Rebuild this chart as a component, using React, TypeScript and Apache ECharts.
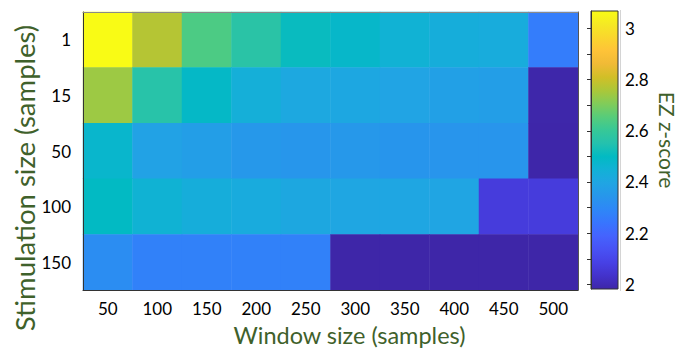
import React, { useEffect, useRef } from "react";
import * as echarts from "echarts";

// Window size (x) and stimulation size (y) categories
const windowSizes = ["50", "100", "150", "200", "250", "300", "350", "400", "450", "500"];
const stimSizes = ["1", "15", "50", "100", "150"];

// EZ z-score per stimulation size row, one value per window size
const stim1 = [3.068, 2.771, 2.637, 2.568, 2.51, 2.482, 2.452, 2.432, 2.424, 2.263];
const stim15 = [2.74, 2.563, 2.49, 2.438, 2.408, 2.405, 2.392, 2.378, 2.372, 1.985];
const stim50 = [2.475, 2.384, 2.373, 2.352, 2.345, 2.35, 2.341, 2.34, 2.34, 1.984];
const stim100 = [2.498, 2.455, 2.432, 2.42, 2.406, 2.4, 2.398, 2.396, 2.068, 2.068];
const stim150 = [2.312, 2.275, 2.275, 2.275, 2.275, 1.982, 1.982, 1.982, 1.982, 1.982];
const rows = [stim1, stim15, stim50, stim100, stim150];

// Colour scale
const zMin = 1.982;
const zMax = 3.068;
const cbTickValues = [2, 2.1, 2.2, 2.3, 2.4, 2.5, 2.6, 2.7, 2.8, 2.9, 3];
const cbLabelValues = [2, 2.2, 2.4, 2.6, 2.8, 3];

// parula colormap (sampled)
const parula = [
  "#3E26A8", "#4332CB", "#4741E5", "#4852F4", "#4563FD", "#3875FE", "#2E87F7", "#2796EB",
  "#20A5E3", "#12B1D6", "#02BAC3", "#24C1AE", "#37C897", "#57CC7A", "#81CC59", "#ABC739",
  "#D1BF27", "#F0BA36", "#FEC338", "#FAD62D", "#F5E924", "#F9FB15",
];

const FONT = "Lato";
const TITLE_COLOR = "#3F612B";

export default function App() {
  const ref = useRef<HTMLDivElement>(null);
  useEffect(() => {
    if (!ref.current) return;
    const chart = echarts.init(ref.current, undefined, { renderer: "svg" });
    const data: [number, number, number][] = [];
    rows.forEach((r, yi) => r.forEach((v, xi) => data.push([xi, yi, v])));

    const catAxisBase = {
      type: "category" as const,
      gridIndex: 0,
      splitLine: { show: false },
      splitArea: { show: false },
    };

    const gL = 83, gT = 12, gW = 495, gH = 278;
    const cbL = 591, cbT = 11, cbW = 27, cbH = 278;

    chart.setOption({
      animation: false,
      backgroundColor: "#ffffff",
      grid: [
        { left: gL, top: gT, width: gW, height: gH },
        { left: cbL, top: cbT, width: cbW, height: cbH },
      ],
      xAxis: [
        {
          ...catAxisBase,
          data: windowSizes,
          position: "bottom",
          z: 10,
          axisLine: { lineStyle: { color: "#333333", width: 1 } },
          axisTick: { inside: true, alignWithLabel: true, length: 3, lineStyle: { color: "#333333" } },
          axisLabel: { color: "#000000", fontSize: 17, fontFamily: FONT, margin: 10 },
        },
        {
          ...catAxisBase,
          data: windowSizes,
          position: "top",
          z: 10,
          axisLine: { lineStyle: { color: "#8a8a8a", width: 1 } },
          axisTick: { inside: true, alignWithLabel: true, length: 3, lineStyle: { color: "#333333" } },
          axisLabel: { show: false },
        },
        { type: "value", gridIndex: 1, show: false, min: 0, max: 1 },
      ],
      yAxis: [
        {
          ...catAxisBase,
          data: stimSizes,
          inverse: true,
          position: "left",
          z: 10,
          axisLine: { lineStyle: { color: "#333333", width: 1 } },
          axisTick: { inside: true, alignWithLabel: true, length: 5, lineStyle: { color: "#333333" } },
          axisLabel: { color: "#000000", fontSize: 17, fontFamily: FONT, margin: 12 },
        },
        {
          ...catAxisBase,
          data: stimSizes,
          inverse: true,
          position: "left",
          z: 10,
          axisLine: { show: false },
          axisTick: { inside: true, alignWithLabel: false, length: 5, lineStyle: { color: "#4a5a3a" } },
          axisLabel: { show: false },
        },
        {
          ...catAxisBase,
          data: stimSizes,
          inverse: true,
          position: "right",
          z: 10,
          axisLine: { lineStyle: { color: "#555555", width: 1 } },
          axisTick: { inside: true, alignWithLabel: true, length: 5, lineStyle: { color: "#333333" } },
          axisLabel: { show: false },
        },
        {
          ...catAxisBase,
          data: stimSizes,
          inverse: true,
          position: "right",
          z: 10,
          axisLine: { show: false },
          axisTick: { inside: true, alignWithLabel: false, length: 5, lineStyle: { color: "#333333" } },
          axisLabel: { show: false },
        },
        {
          type: "value",
          gridIndex: 1,
          min: zMin,
          max: zMax,
          position: "right",
          z: 10,
          splitLine: { show: false },
          axisLine: { show: true, lineStyle: { color: "#333333", width: 1 } },
          axisTick: {
            show: true,
            inside: true,
            length: 4,
            customValues: cbTickValues,
            lineStyle: { color: "#333333" },
          },
          axisLabel: {
            show: true,
            customValues: cbLabelValues,
            color: "#000000",
            fontSize: 17,
            fontFamily: FONT,
            margin: 7,
            formatter: (v: number) => String(Math.round(v * 10) / 10),
          },
        },
      ],
      visualMap: {
        type: "continuous",
        show: false,
        min: zMin,
        max: zMax,
        seriesIndex: 0,
        dimension: 2,
        inRange: { color: parula },
      },
      series: [
        {
          type: "heatmap",
          xAxisIndex: 0,
          yAxisIndex: 0,
          data,
          itemStyle: { borderWidth: 0 },
          emphasis: { disabled: true },
        },
      ],
      graphic: [
        {
          type: "rect",
          z: 1,
          shape: { x: cbL, y: cbT, width: cbW, height: cbH },
          style: {
            fill: new echarts.graphic.LinearGradient(
              0, 1, 0, 0,
              parula.map((c, i) => ({ offset: i / (parula.length - 1), color: c }))
            ),
            stroke: "#333333",
            lineWidth: 1,
          },
        },
        {
          type: "line",
          z: 1,
          shape: { x1: 620.5, y1: 10, x2: 620.5, y2: 291 },
          style: { stroke: "#d4d4d4", lineWidth: 1 },
        },
        {
          type: "text",
          x: 349.5,
          y: 335,
          style: {
            text: "Window size (samples)",
            fill: TITLE_COLOR,
            fontSize: 23.5,
            fontFamily: FONT,
            textAlign: "center",
            textVerticalAlign: "middle",
          },
        },
        {
          type: "text",
          x: 24,
          y: 178,
          rotation: Math.PI / 2,
          style: {
            text: "Stimulation size (samples)",
            fill: TITLE_COLOR,
            fontSize: 27.5,
            fontFamily: FONT,
            textAlign: "center",
            textVerticalAlign: "middle",
          },
        },
        {
          type: "text",
          x: 667,
          y: 140,
          rotation: -Math.PI / 2,
          style: {
            text: "EZ z-score",
            fill: TITLE_COLOR,
            fontSize: 21,
            fontFamily: FONT,
            textAlign: "center",
            textVerticalAlign: "middle",
          },
        },
      ],
    });
    return () => chart.dispose();
  }, []);
  return (
    <div
      ref={ref}
      style={{ position: "fixed", left: 0, top: 0, width: 681, height: 348, background: "#fff" }}
    />
  );
}
